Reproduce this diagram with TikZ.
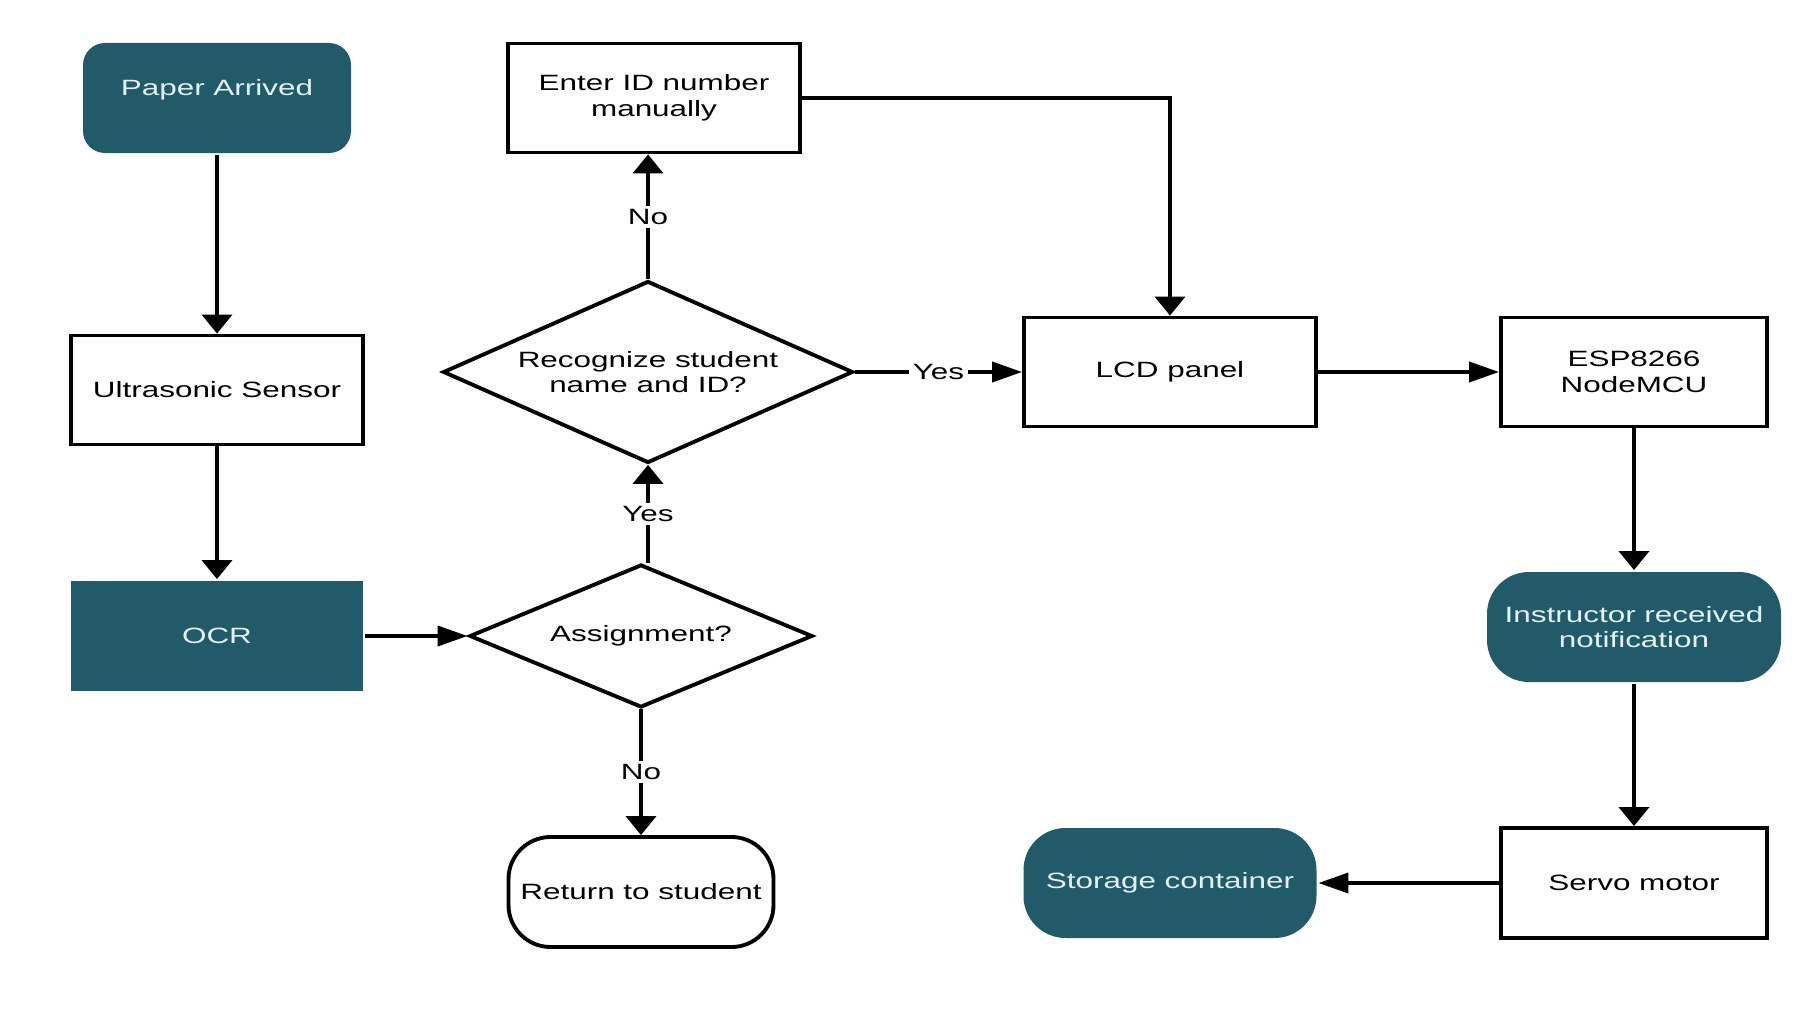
\documentclass[tikz,border=0pt]{standalone}
\usepackage{fontspec}
\setmainfont[FakeStretch=1.42]{Liberation Sans}
\usepackage{tikz}
\usetikzlibrary{
        arrows.meta,
        positioning,
        shapes.geometric
    }
\definecolor{tealbox}{HTML}{215B69}
\definecolor{tealtext}{HTML}{E3F1F4}
\tikzset{node distance=2cm}
\tikzset{
    process/.style={draw,rectangle,minimum width=2.92cm,minimum height=1.09cm,inner sep=1pt,align=center},
    startnode/.style={fill=tealbox,text=tealtext,rectangle,minimum width=2.92cm,minimum height=1.10cm,inner sep=1pt,align=center},
    endnode/.style={draw,rectangle,rounded corners=0.42cm,minimum width=2.65cm,minimum height=1.10cm,inner sep=1pt},
    decision/.style={draw,diamond,aspect=2.25,inner sep=0pt,align=center},
    harrow/.style={-{Triangle[length=0.30cm,width=0.20cm]}},
    varrow/.style={-{Triangle[length=0.19cm,width=0.30cm]}},
    lbl/.style={fill=white,inner sep=1pt,pos=0.5}
}

\begin{document}
\begin{tikzpicture}[line width=1.1pt,font=\fontsize{6.3}{7.3}\selectfont]
                \useasboundingbox (0,0) rectangle (18.15,-10.13);
                \node[startnode,rounded corners=0.22cm,minimum width=2.68cm,text depth=0.21cm] (paper) at (2.17,-0.98) {Paper Arrived};
                \node[process] (ultra) [below of=paper,node distance=2.92cm] {Ultrasonic Sensor};
                \node[startnode] (ocr) [below of=ultra,node distance=2.46cm] {OCR};
                \node[decision,minimum width=3.43cm,minimum height=1.43cm] (assign) [right of=ocr,node distance=4.24cm] {Assignment?};
                \node[decision,minimum width=4.10cm,minimum height=1.82cm,xshift=0.07cm] (recog) [above of=assign,node distance=2.64cm] {Recognize student\\name and ID?};
                \node[process,xshift=0.06cm] (enter) [above of=recog,node distance=2.74cm] {Enter ID number\\manually};
                \node[endnode] (ret) [below of=assign,node distance=2.56cm] {Return to student};
                \node[process] (lcd) [right of=recog,node distance=5.22cm] {LCD panel};
                \node[process,minimum width=2.66cm] (esp) [right of=lcd,node distance=4.64cm] {ESP8266\\NodeMCU};
                \node[startnode,rounded corners=0.42cm,minimum width=2.94cm] (instr) [below of=esp,node distance=2.55cm] {Instructor received\\notification};
                \node[process,minimum width=2.66cm,minimum height=1.10cm] (servo) [below of=instr,node distance=2.56cm] {Servo motor};
                \node[startnode,rounded corners=0.42cm,minimum width=2.93cm] (store) [left of=servo,node distance=4.64cm] {Storage container};
                \path[varrow]
                    (paper)  edge (ultra)
                    (ultra)  edge (ocr)
                    (recog.south |- assign.north) edge node[lbl] {Yes} (recog.south)
                    (recog.north) edge node[lbl] {No} (recog.north |- enter.south)
                    (assign) edge node[lbl] {No} (ret)
                    (esp)    edge (instr)
                    (instr)  edge (servo)
                ;
                \path[harrow]
                    (ocr)   edge (assign)
                    (recog) edge node[lbl] {Yes} (lcd)
                    (lcd)   edge (esp)
                    (servo) edge (store)
                ;
                \draw[varrow] (enter.east) -| (lcd.north);
            \end{tikzpicture}
\end{document}
